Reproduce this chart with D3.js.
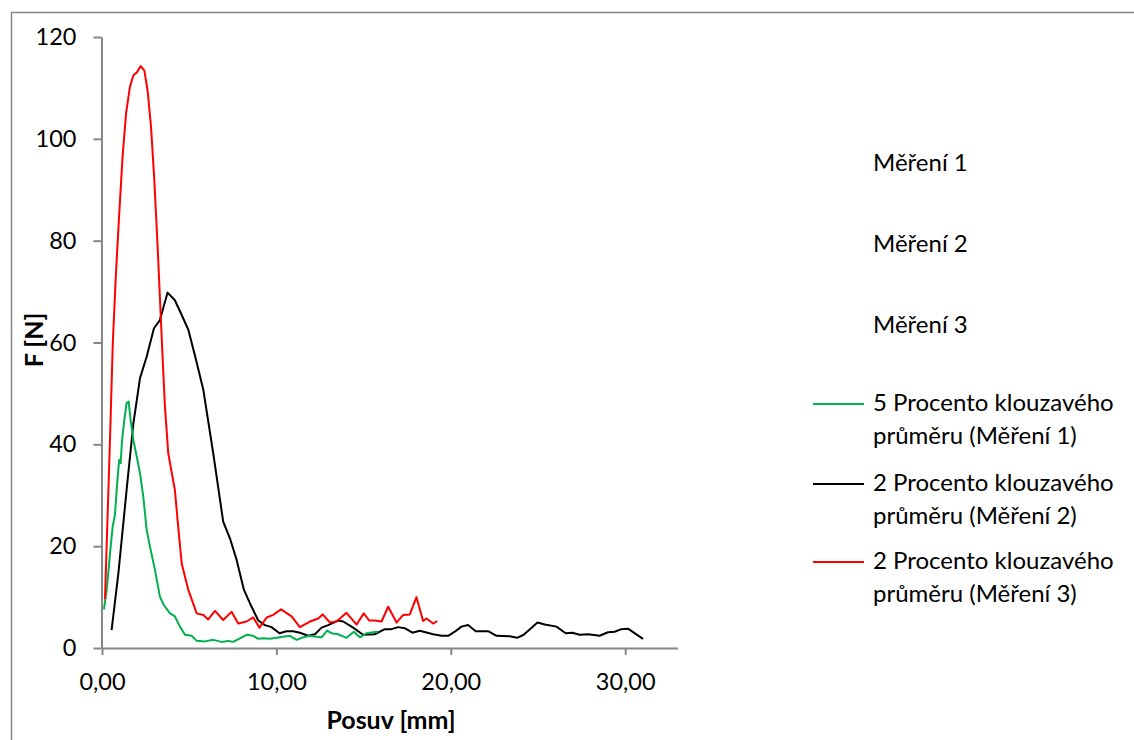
<!DOCTYPE html>
<html>
<head>
<meta charset="utf-8">
<script src="https://cdn.jsdelivr.net/npm/d3@7"></script>
<style>
  html, body { margin: 0; padding: 0; background: #fff; }
  svg { display: block; }
  text { font-family: Lato, "Open Sans", sans-serif; fill: #000; }
</style>
</head>
<body>
<svg id="chart" width="1134" height="740"></svg>
<script>
// Moving-average curves of force vs. displacement for three measurements
const xTicks = [0, 10, 20, 30];
const yTicks = [0, 20, 40, 60, 80, 100, 120];

// Měření 1 – 5-period moving average
const m1x = [0.11,0.27,0.46,0.61,0.74,0.84,0.94,0.99,1.07,1.15,1.28,1.41,1.53,1.64,1.80,1.99,2.18,2.37,2.56,2.75,3.04,3.32,3.55,3.90,4.18,4.47,4.76,5.14,5.43,5.90,6.38,6.86,7.24,7.52,7.91,8.29,8.67,8.96,9.24,9.63,10.01,10.39,10.77,11.16,11.54,11.92,12.30,12.59,12.91,13.16,13.54,14.02,14.44,14.79,15.17,15.55,15.84];
const m1y = [7.6,11.4,18.6,23.8,26.1,31.0,35.3,36.9,36.3,40.8,44.8,48.1,48.4,44.8,40.8,37.6,34.3,29.7,23.2,19.9,15.3,10.1,8.4,6.8,6.2,4.2,2.6,2.4,1.4,1.3,1.6,1.2,1.4,1.2,1.9,2.6,2.4,1.8,1.9,1.8,2.0,2.2,2.4,1.6,2.1,2.4,2.2,2.1,3.4,2.9,2.7,2.0,3.2,2.1,2.9,3.1,3.2];

// Měření 2 – 2-period moving average
const m2x = [0.55,0.94,1.41,1.80,2.18,2.56,2.98,3.32,3.76,4.18,4.57,4.95,5.39,5.81,6.38,6.95,7.34,7.72,8.14,8.48,8.96,9.34,9.72,10.18,10.58,10.96,11.35,11.82,12.21,12.59,12.97,13.54,13.83,14.40,14.97,15.64,16.22,16.60,16.98,17.36,17.80,18.22,18.99,19.47,19.85,20.23,20.61,20.99,21.43,22.14,22.62,23.38,23.80,24.18,24.57,24.97,25.39,26.06,26.59,26.97,27.39,27.87,28.54,29.01,29.40,29.78,30.16,31.02];
const m2y = [3.5,14.7,31.0,44.1,53.0,57.2,62.8,64.4,69.8,68.3,65.4,62.5,56.6,50.7,38.2,24.8,21.5,17.3,11.4,8.8,5.4,4.5,4.1,2.9,3.3,3.3,3.0,2.4,2.7,4.0,4.5,5.4,5.2,4.0,2.6,2.7,3.7,3.7,4.1,3.9,3.0,3.4,2.7,2.4,2.4,3.2,4.2,4.5,3.3,3.3,2.4,2.3,2.0,2.6,3.8,5.0,4.6,4.2,2.9,3.0,2.6,2.7,2.4,3.1,3.2,3.7,3.8,1.8];

// Měření 3 – 2-period moving average
const m3x = [0.17,0.45,0.62,0.80,0.99,1.18,1.38,1.60,1.80,1.99,2.22,2.43,2.62,2.81,3.00,3.19,3.36,3.48,3.61,3.80,4.18,4.37,4.57,4.95,5.43,5.81,6.09,6.48,6.95,7.43,7.81,8.29,8.67,9.03,9.44,9.82,10.27,10.87,11.35,11.92,12.40,12.65,13.07,13.45,14.02,14.60,15.01,15.32,15.64,16.03,16.41,16.89,17.27,17.65,18.03,18.41,18.61,18.99,19.22];
const m3y = [9.6,40.0,60.0,73.6,85.4,96.5,105.0,110.2,112.5,113.0,114.3,113.4,109.3,102.4,91.9,78.8,65.8,56.6,47.4,38.2,31.0,23.8,16.6,11.4,6.8,6.5,5.6,7.3,5.5,7.1,4.8,5.2,6.0,4.0,6.0,6.5,7.6,6.2,4.1,5.2,5.8,6.6,5.0,5.2,6.9,4.6,6.8,5.4,5.4,5.2,8.1,5.0,6.5,6.6,10.0,5.3,5.8,4.8,5.3];

const seriesNames = ["Měření 1", "Měření 2", "Měření 3"];
const trendNames = [
  ["5 Procento klouzavého", "průměru (Měření 1)"],
  ["2 Procento klouzavého", "průměru (Měření 2)"],
  ["2 Procento klouzavého", "průměru (Měření 3)"]
];
const trendColors = ["#00B050", "#000000", "#FF0000"];

const svg = d3.select("#chart");
const axisColor = "#868686";
const tickFont = 23.5;
const legendFont = 24;
const titleFont = 25;

// outer chart frame
svg.append("rect")
  .attr("x", 11.5).attr("y", 12.5)
  .attr("width", 1300).attr("height", 900)
  .attr("fill", "#fff").attr("stroke", axisColor).attr("stroke-width", 1.5);

const x = d3.scaleLinear().domain([0, 33]).range([102, 677.5]);
const y = d3.scaleLinear().domain([0, 120]).range([648, 37]);

// y axis
const gy = svg.append("g").attr("transform", "translate(101.5,0)")
  .call(d3.axisLeft(y).tickValues(yTicks).tickSize(8).tickPadding(17).tickSizeOuter(0).tickFormat(d3.format("d")));
gy.select(".domain").attr("stroke", axisColor).attr("stroke-width", 2);
gy.selectAll(".tick line").attr("stroke", axisColor).attr("stroke-width", 2);
gy.selectAll(".tick text").attr("font-size", tickFont).attr("font-family", "Lato").attr("fill", "#000");

// x axis
const gx = svg.append("g").attr("transform", "translate(0,648)")
  .call(d3.axisBottom(x).tickValues(xTicks).tickSize(7).tickPadding(18).tickSizeOuter(0)
    .tickFormat(d => d.toFixed(2).replace(".", ",")));
gx.select(".domain").attr("stroke", axisColor).attr("stroke-width", 2);
gx.selectAll(".tick line").attr("stroke", axisColor).attr("stroke-width", 2);
gx.selectAll(".tick text").attr("font-size", tickFont).attr("font-family", "Lato").attr("fill", "#000");

// axis titles
svg.append("text")
  .attr("x", 391).attr("y", 729)
  .attr("text-anchor", "middle")
  .attr("font-size", titleFont).attr("font-weight", "bold")
  .text("Posuv [mm]");
svg.append("text")
  .attr("transform", "translate(43,340) rotate(-90)")
  .attr("text-anchor", "middle")
  .attr("font-size", titleFont).attr("font-weight", "bold")
  .text("F [N]");

// curves
const line = d3.line().x(d => x(d[0])).y(d => y(d[1]));
const series = [
  d3.zip(m1x, m1y),
  d3.zip(m2x, m2y),
  d3.zip(m3x, m3y)
];
// draw order: black, green, red on top
[1, 0, 2].forEach(i => {
  svg.append("path")
    .datum(series[i])
    .attr("d", line)
    .attr("fill", "none")
    .attr("stroke", trendColors[i])
    .attr("stroke-width", 2)
    .attr("stroke-linejoin", "round");
});

// legend
const legend = svg.append("g");
const nameBaselines = [171, 252, 333];
seriesNames.forEach((n, i) => {
  legend.append("text").attr("x", 873).attr("y", nameBaselines[i])
    .attr("font-size", legendFont).text(n);
});
const trendBaselines = [411, 491, 569];
trendNames.forEach((lines, i) => {
  const b = trendBaselines[i];
  legend.append("line")
    .attr("x1", 813).attr("x2", 864)
    .attr("y1", b - 7).attr("y2", b - 7)
    .attr("stroke", trendColors[i]).attr("stroke-width", 2);
  lines.forEach((t, k) => {
    legend.append("text").attr("x", 873).attr("y", b + k * 33)
      .attr("font-size", legendFont).text(t);
  });
});
</script>
</body>
</html>
